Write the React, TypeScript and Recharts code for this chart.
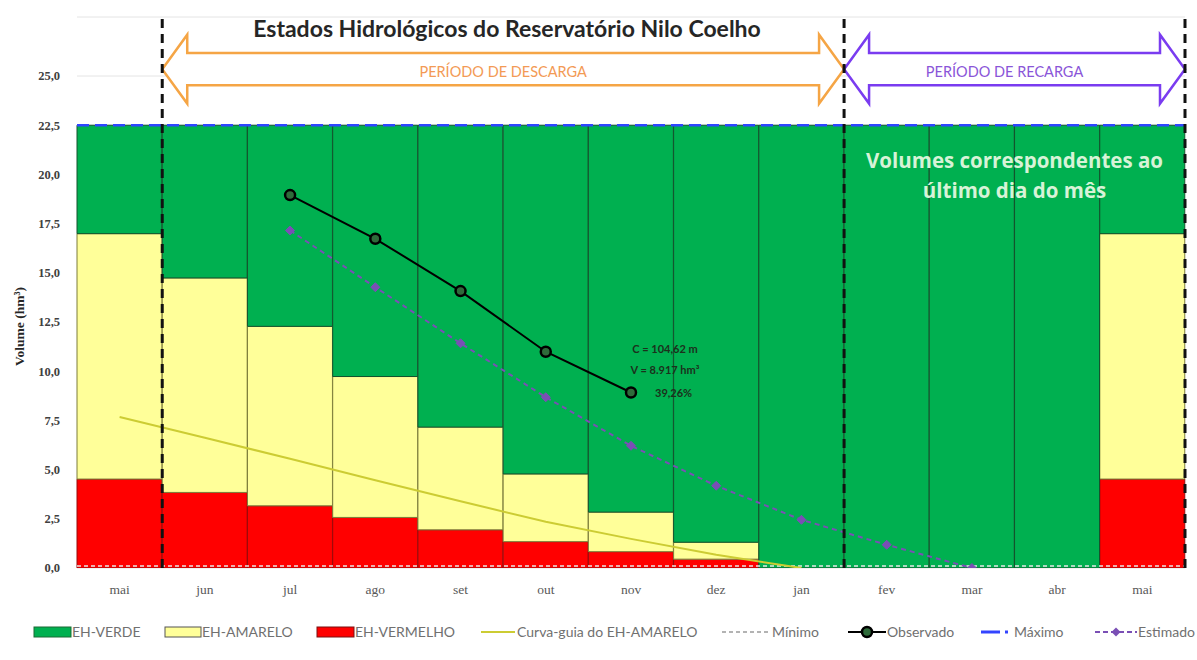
import React from 'react';
import {
  ComposedChart,
  Bar,
  Line,
  XAxis,
  YAxis,
  CartesianGrid,
  ReferenceLine,
  ReferenceArea,
  LabelList,
} from 'recharts';

// ---------- data ----------
const months = ['mai', 'jun', 'jul', 'ago', 'set', 'out', 'nov', 'dez', 'jan', 'fev', 'mar', 'abr', 'mai'];
const redLevel = [4.52, 3.84, 3.16, 2.57, 1.94, 1.34, 0.83, 0.45, 0, 0, 0, 0, 4.52];
const yellowLevel = [16.99, 14.74, 12.28, 9.73, 7.16, 4.78, 2.84, 1.31, 0, 0, 0, 0, 16.99];
const maxVolume = 22.5;
const minVolume = 0.1;
const guideCurve = [7.67, 6.62, 5.55, 4.46, 3.39, 2.35, 1.48, 0.67, 0, null, null, null, null];
const observedVolume = [null, null, 18.95, 16.73, 14.07, 10.99, 8.917, null, null, null, null, null, null];
const estimatedVolume = [null, null, 17.15, 14.27, 11.42, 8.68, 6.21, 4.18, 2.45, 1.18, 0, null, null];
const yTicks = [0, 2.5, 5, 7.5, 10, 12.5, 15, 17.5, 20, 22.5, 25];
const lastObsIndex = 6;
const obsNote = ['C = 104,62 m', 'V = 8.917 hm³', '39,26%'];
const volNote = ['Volumes correspondentes ao', 'último dia do mês'];

const data = months.map((m, i) => ({
  key: `${m}-${i}`,
  red: redLevel[i],
  yellow: +(yellowLevel[i] - redLevel[i]).toFixed(3),
  green: +(maxVolume - yellowLevel[i]).toFixed(3),
  guide: guideCurve[i],
  observed: observedVolume[i],
  estimated: estimatedVolume[i],
}));

const keyOf = (i: number) => `${months[i]}-${i}`;

// ---------- custom shapes ----------
const DoubleArrow = (color: string) => (props: any) => {
  const { x, y, width, height } = props;
  const cy = y + height / 2;
  const head = 25;
  const s = height * 0.235;
  const pts = [
    [x, cy],
    [x + head, y],
    [x + head, cy - s],
    [x + width - head, cy - s],
    [x + width - head, y],
    [x + width, cy],
    [x + width - head, y + height],
    [x + width - head, cy + s],
    [x + head, cy + s],
    [x + head, y + height],
  ]
    .map((p) => p.join(','))
    .join(' ');
  return <polygon points={pts} fill="#ffffff" stroke={color} strokeWidth={2.5} strokeLinejoin="miter" />;
};

const Diamond = (props: any) => {
  const { cx, cy, index, value } = props;
  if (value == null || cy == null || isNaN(cy)) return <g key={`d-${index}`} />;
  const r = 4.5;
  return (
    <polygon
      key={`d-${index}`}
      points={`${cx},${cy - r} ${cx + r},${cy} ${cx},${cy + r} ${cx - r},${cy}`}
      fill="#7a4fb5"
      stroke="#7a4fb5"
    />
  );
};

const ObsNote = (props: any) => {
  const { x, y, index } = props;
  if (index !== lastObsIndex) return null;
  const st = { fontFamily: 'Lato, sans-serif', fontSize: 11, fontWeight: 700, fill: '#1c301c' } as any;
  return (
    <g>
      <text x={x + 34} y={y - 40} textAnchor="middle" {...st}>{obsNote[0]}</text>
      <text x={x + 34} y={y - 19} textAnchor="middle" {...st}>{obsNote[1]}</text>
      <text x={x + 24} y={y + 4} textAnchor="start" {...st}>{obsNote[2]}</text>
    </g>
  );
};

const VolNote = (props: any) => {
  const vb = props.viewBox || {};
  const cx = vb.x + (vb.width || 0) / 2;
  const st = { fontFamily: '"Open Sans", sans-serif', fontSize: 20.5, fontWeight: 700, fill: '#d7f3d7' } as any;
  return (
    <g>
      <text x={cx} y={vb.y + 3} textAnchor="middle" {...st}>{volNote[0]}</text>
      <text x={cx} y={vb.y + 33} textAnchor="middle" {...st}>{volNote[1]}</text>
    </g>
  );
};

// ---------- legend ----------
const legendText: React.CSSProperties = {
  position: 'absolute',
  top: 623,
  fontFamily: 'Lato, sans-serif',
  fontSize: 14,
  color: '#707070',
  lineHeight: '18px',
  whiteSpace: 'nowrap',
};

const Legend = () => (
  <div style={{ position: 'absolute', left: 0, top: 0, width: 1197, height: 660, pointerEvents: 'none', overflow: 'hidden' }}>
    <svg width={1197} height={660} style={{ position: 'absolute', left: 0, top: 0 }}>
      <rect x={34} y={627} width={37} height={10} fill="#00b050" stroke="#1a6b35" />
      <rect x={165} y={627} width={36} height={10} fill="#ffff99" stroke="#555" />
      <rect x={317} y={627} width={37} height={10} fill="#ff0000" stroke="#7a1010" />
      <line x1={481} x2={515} y1={632} y2={632} stroke="#cccc33" strokeWidth={2} />
      <line x1={722} x2={770} y1={632} y2={632} stroke="#9a9a9a" strokeWidth={1.5} strokeDasharray="4 3" />
      <line x1={848} x2={886} y1={632} y2={632} stroke="#000" strokeWidth={2} />
      <circle cx={867} cy={632} r={5} fill="#2e6b3a" stroke="#000" strokeWidth={2.5} />
      <line x1={981} x2={1000} y1={632} y2={632} stroke="#3344ff" strokeWidth={3} />
      <line x1={1005} x2={1008} y1={632} y2={632} stroke="#3344ff" strokeWidth={3} />
      <line x1={1095} x2={1137} y1={632} y2={632} stroke="#7a4fb5" strokeWidth={2} strokeDasharray="5 3" />
      <polygon points="1116,627.5 1120.5,632 1116,636.5 1111.5,632" fill="#7a4fb5" />
    </svg>
    <div style={{ ...legendText, left: 72 }}>EH-VERDE</div>
    <div style={{ ...legendText, left: 202 }}>EH-AMARELO</div>
    <div style={{ ...legendText, left: 355 }}>EH-VERMELHO</div>
    <div style={{ ...legendText, left: 517 }}>Curva-guia do EH-AMARELO</div>
    <div style={{ ...legendText, left: 772 }}>Mínimo</div>
    <div style={{ ...legendText, left: 887 }}>Observado</div>
    <div style={{ ...legendText, left: 1014 }}>Máximo</div>
    <div style={{ ...legendText, left: 1138 }}>Estimado</div>
  </div>
);

export default function App() {
  return (
    <div style={{ position: 'absolute', left: 0, top: 0, width: 1197, height: 660, background: '#fff', overflow: 'hidden' }}>
      <ComposedChart
        width={1197}
        height={660}
        data={data}
        margin={{ top: 17, right: 12, left: 17, bottom: 62 }}
        barCategoryGap={0}
        barGap={0}
      >
        <CartesianGrid horizontal vertical={false} stroke="#e4e4e4" />
        <XAxis
          dataKey="key"
          interval={0}
          tickFormatter={(v: string) => v.split('-')[0]}
          tickLine={false}
          axisLine={false}
          height={30}
          tickMargin={10}
          tick={{ fontFamily: '"Liberation Serif", serif', fontSize: 13.5, fill: '#595959' }}
        />
        <YAxis
          domain={[0, 28]}
          ticks={yTicks}
          allowDataOverflow
          width={60}
          axisLine={false}
          tickLine={false}
          tickMargin={11}
          tickFormatter={(v: number) => v.toFixed(1).replace('.', ',')}
          tick={{ fontFamily: '"Liberation Serif", serif', fontSize: 12.5, fontWeight: 700, fill: '#404040' }}
          label={{
            value: 'Volume (hm³)',
            angle: -90,
            position: 'insideLeft',
            offset: 2,
            dy: 34,
            style: { textAnchor: 'middle', fontFamily: '"Liberation Serif", serif', fontSize: 13.5, fontWeight: 700, fill: '#262626' },
          }}
        />
        <Bar dataKey="red" stackId="s" fill="#ff0000" stroke="#9a0a0a" strokeWidth={1} isAnimationActive={false} />
        <Bar dataKey="yellow" stackId="s" fill="#ffff99" stroke="#7d7d3a" strokeWidth={1} isAnimationActive={false} />
        <Bar dataKey="green" stackId="s" fill="#00b050" stroke="#14532d" strokeWidth={1} isAnimationActive={false} />

        <ReferenceArea
          x1={keyOf(1)}
          x2={keyOf(8)}
          y1={23.6}
          y2={27.1}
          ifOverflow="visible"
          shape={DoubleArrow('#f5a545')}
          label={{ value: 'PERÍODO DE DESCARGA', position: 'center', fill: '#f39a55', fontSize: 14.5, fontFamily: 'Lato, sans-serif', dy: 3 }}
        />
        <ReferenceArea
          x1={keyOf(9)}
          x2={keyOf(12)}
          y1={23.6}
          y2={27.1}
          ifOverflow="visible"
          shape={DoubleArrow('#7a3cf0')}
          label={{ value: 'PERÍODO DE RECARGA', position: 'center', fill: '#8a55d8', fontSize: 14.5, fontFamily: 'Lato, sans-serif', dx: -10, dy: 3 }}
        />

        <ReferenceLine y={minVolume} stroke="#e6e6e6" strokeWidth={1.5} strokeDasharray="4 3" />
        <ReferenceLine y={maxVolume} stroke="#2f45ff" strokeWidth={2.5} strokeDasharray="12 6" />
        <ReferenceLine
          segment={[{ x: keyOf(9), y: 20.5 }, { x: keyOf(12), y: 20.5 }]}
          stroke="none"
          strokeOpacity={0}
          ifOverflow="visible"
          label={<VolNote />}
        />

        <Line
          dataKey="guide"
          stroke="#cccc33"
          strokeWidth={2}
          dot={false}
          activeDot={false}
          isAnimationActive={false}
        />
        <Line
          dataKey="estimated"
          stroke="#7a4fb5"
          strokeWidth={2}
          strokeDasharray="5 4"
          dot={Diamond}
          activeDot={false}
          isAnimationActive={false}
        />
        <Line
          dataKey="observed"
          stroke="#000"
          strokeWidth={2}
          dot={{ r: 5, fill: '#2e6b3a', stroke: '#000', strokeWidth: 2.5 }}
          activeDot={false}
          isAnimationActive={false}
        >
          <LabelList dataKey="observed" content={ObsNote} />
        </Line>

        <ReferenceLine x={keyOf(1)} position="start" stroke="#111" strokeWidth={3} strokeDasharray="9 6" ifOverflow="visible" />
        <ReferenceLine x={keyOf(9)} position="start" stroke="#111" strokeWidth={3} strokeDasharray="9 6" ifOverflow="visible" />
        <ReferenceLine x={keyOf(12)} position="end" stroke="#111" strokeWidth={3} strokeDasharray="9 6" ifOverflow="visible" />
      </ComposedChart>
      <div
        style={{
          position: 'absolute',
          left: 507,
          top: 14,
          transform: 'translateX(-50%)',
          fontFamily: 'Lato, sans-serif',
          fontWeight: 700,
          fontSize: 23,
          color: '#262626',
          whiteSpace: 'nowrap',
        }}
      >
        Estados Hidrológicos do Reservatório Nilo Coelho
      </div>
      <Legend />
    </div>
  );
}
